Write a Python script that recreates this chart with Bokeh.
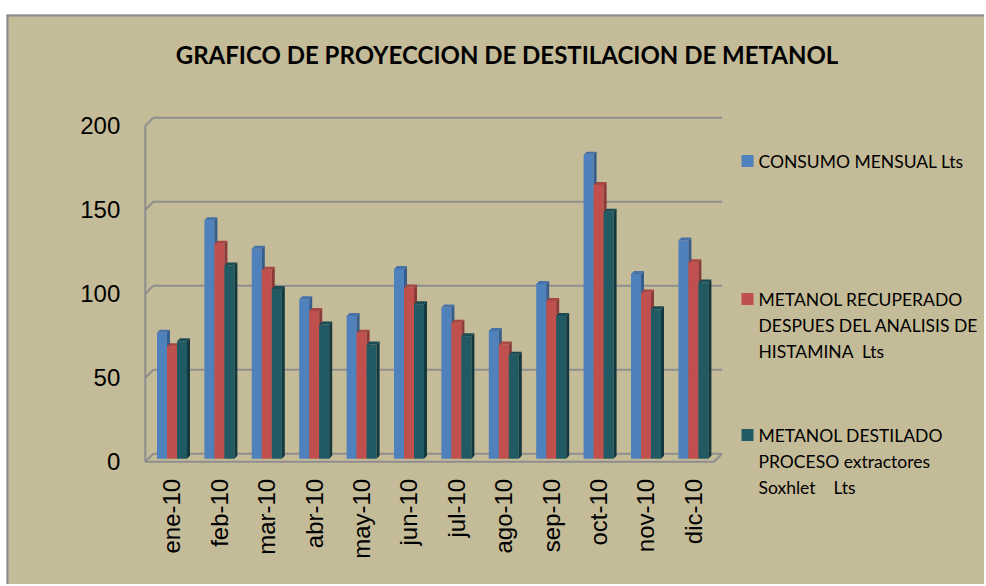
import math
from bokeh.plotting import figure
from bokeh.models import FixedTicker
from bokeh.core.properties import value
from bokeh.embed import file_html
from bokeh.resources import INLINE

# ---------------- data ----------------
months = ["ene-10", "feb-10", "mar-10", "abr-10", "may-10", "jun-10",
          "jul-10", "ago-10", "sep-10", "oct-10", "nov-10", "dic-10"]
consumo = [75, 142, 125, 95, 85, 113, 90, 76, 104, 181, 110, 130]
recuperado = [67, 128, 112.5, 88, 75, 102, 81, 68, 94, 163, 99, 117]
destilado = [70, 115, 101, 80, 68, 92, 73, 62, 85, 147, 89, 105]
y_ticks = [0, 50, 100, 150, 200]
series_labels = [
    "CONSUMO MENSUAL Lts",
    "METANOL RECUPERADO\nDESPUES DEL ANALISIS DE\nHISTAMINA \u00a0Lts",
    "METANOL DESTILADO\nPROCESO extractores\nSoxhlet \u00a0\u00a0\u00a0Lts",
]
title_text = "GRAFICO DE PROYECCION DE DESTILACION DE METANOL"

# ---------------- style / layout ----------------
BG = "#C4BB98"
GRID = "#8E8E8E"
FRONT = ["#4F81BD", "#C0504D", "#215A63"]
SIDE = ["#365D8C", "#8B3A38", "#13383E"]
TOP = ["#4672A8", "#A84644", "#1B4B53"]

W, H = 984, 584                 # canvas size (canvas sits at page 0,0)
FL, FR, FT, FB = 6, W, 14, H    # page edges of the frame
X0, Y0 = 144.8, 461.3           # page position of data (0, 0)
PXU, PYU = 47.4, 1.68           # pixels per data unit


def xd(px):
    return (px - X0) / PXU


def yd(py):
    return (Y0 - py) / PYU


n = len(months)
dxw, dyw = 8 / PXU, 8 / PYU      # back wall depth
dxb, dyb = 3 / PXU, 3 / PYU      # bar front depth
ddx, ddy = 3 / PXU, 3 / PYU      # bar thickness in depth
bw = 10 / PXU                    # bar width

p = figure(width=W, height=H, x_range=(xd(FL), xd(FR)), y_range=(yd(FB), yd(FT)),
           output_backend="svg", toolbar_location=None,
           min_border_left=FL, min_border_right=0, min_border_bottom=0,
           min_border_top=FT)
p.background_fill_color = BG
p.border_fill_color = "white"
p.outline_line_color = None
p.xgrid.visible = False
p.ygrid.visible = False

# outer chart border (top and left edges)
p.segment(x0=[xd(FL), xd(FL)], y0=[yd(FT), yd(FT)], x1=[xd(FR), xd(FL)], y1=[yd(FT), yd(FB)],
          line_color="#8C8C8C", line_width=4)

# walls / floor
top_val = y_ticks[-1]
p.segment(x0=[dxw] * len(y_ticks), y0=[t + dyw for t in y_ticks],
          x1=[n + dxw] * len(y_ticks), y1=[t + dyw for t in y_ticks],
          line_color=GRID, line_width=2)
p.segment(x0=[0] * len(y_ticks), y0=y_ticks,
          x1=[dxw] * len(y_ticks), y1=[t + dyw for t in y_ticks],
          line_color=GRID, line_width=2)
p.segment(x0=[0, 0, n], y0=[0, 0, 0], x1=[0, n, n + dxw], y1=[top_val, 0, dyw],
          line_color=GRID, line_width=2)

# bars
for k, vals in enumerate([consumo, recuperado, destilado]):
    centers = [i + 0.5 + dxb + (k - 1) * bw for i in range(n)]
    p.vbar(x=centers, width=bw, bottom=dyb, top=[v + dyb for v in vals],
           fill_color=FRONT[k], line_color=None)
    sx, sy, tx, ty = [], [], [], []
    for c, v in zip(centers, vals):
        r = c + bw / 2
        l = c - bw / 2
        sx.append([r, r + ddx, r + ddx, r])
        sy.append([dyb, dyb + ddy, v + dyb + ddy, v + dyb])
        tx.append([l, r, r + ddx, l + ddx])
        ty.append([v + dyb, v + dyb, v + dyb + ddy, v + dyb + ddy])
    p.patches(xs=sx, ys=sy, fill_color=SIDE[k], line_color=None)
    p.patches(xs=tx, ys=ty, fill_color=TOP[k], line_color=None)

# axes (drawn at data zero, inside the frame)
ticks = [round(i + 0.5 + dxb, 4) for i in range(n)]
p.xaxis.ticker = FixedTicker(ticks=ticks)
p.xaxis.major_label_overrides = {t: m for t, m in zip(ticks, months)}
p.xaxis.major_label_orientation = math.pi / 2
p.yaxis.ticker = FixedTicker(ticks=y_ticks)
p.xaxis.fixed_location = 0
p.yaxis.fixed_location = 0
for ax in (p.xaxis[0], p.yaxis[0]):
    ax.axis_line_color = None
    ax.major_tick_line_color = None
    ax.minor_tick_line_color = None
    ax.major_tick_out = 0
    ax.major_tick_in = 0
    ax.major_label_text_font = "Liberation Sans"
    ax.major_label_text_font_size = "24px"
    ax.major_label_text_color = "black"
p.xaxis.major_label_standoff = 17
p.yaxis.major_label_standoff = 25

# title
p.text(x=[xd(506.5)], y=[yd(53.5)], text=[title_text], text_align="center",
       text_baseline="middle", text_font=value("Lato"), text_font_style="bold",
       text_font_size="24px", text_color="black")

# legend
first_centers = [160.5, 298.5, 434.5]
line_gap = 26
p.scatter(x=[xd(747)] * 3, y=[yd(c) for c in first_centers], marker="square",
          size=12, fill_color=FRONT, line_color=None)
lx, ly, lt = [], [], []
for lab, c in zip(series_labels, first_centers):
    for j, line in enumerate(lab.split("\n")):
        lx.append(xd(758))
        ly.append(yd(c + j * line_gap))
        lt.append(line)
p.text(x=lx, y=ly, text=lt, text_align="left", text_baseline="middle",
       text_font=value("Lato"), text_font_size="17.5px", text_color="black")

open("out.html", "w").write(file_html(p, INLINE))
